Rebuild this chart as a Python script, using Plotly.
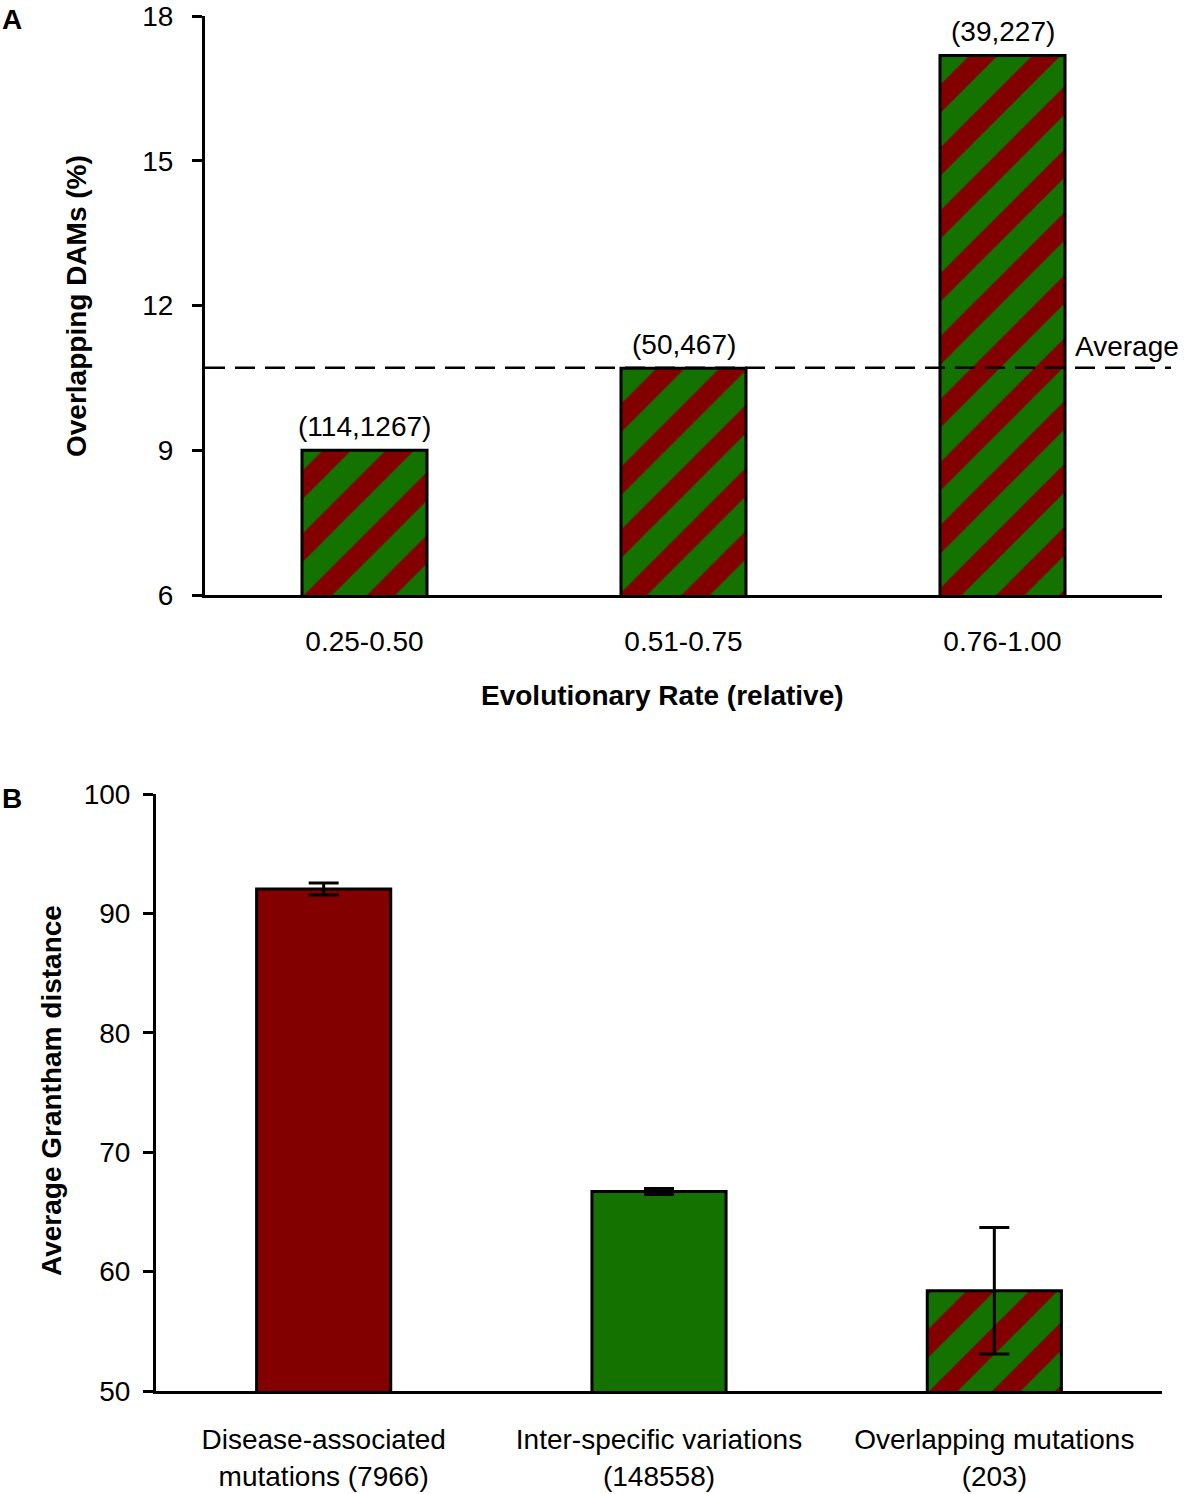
import plotly.graph_objects as go

# ---------------- data ----------------
rate_bins = ["0.25-0.50", "0.51-0.75", "0.76-1.00"]
overlap_pct = [9.0, 10.7, 17.18]
overlap_counts = ["(114,1267)", "(50,467)", "(39,227)"]
average_pct = 10.71

groups = ["Disease-associated<br>mutations (7966)",
          "Inter-specific variations<br>(148558)",
          "Overlapping mutations<br>(203)"]
grantham_mean = [92.05, 66.7, 58.4]
grantham_err = [0.5, 0.25, 5.3]

# ---------------- style ----------------
RED = "#820000"
GREEN = "#137200"
FONT = "Liberation Sans, Arial, sans-serif"
FS = 28
W, H = 1200, 1494

stripes = dict(shape="/", fgcolor=RED, bgcolor=GREEN, size=44.5,
               solidity=0.45, fillmode="replace", fgopacity=1)
bar_line = dict(color="black", width=3)
err_style = dict(type="data", color="black", thickness=3, width=15)

fig = go.Figure()

# Panel A
fig.add_trace(go.Bar(
    x=rate_bins, y=overlap_pct, width=0.392,
    marker=dict(color=GREEN, pattern=stripes, line=bar_line),
    xaxis="x", yaxis="y", showlegend=False,
))

# Panel B: solid bars
fig.add_trace(go.Bar(
    x=groups[:2], y=grantham_mean[:2], width=0.40,
    marker=dict(color=[RED, GREEN], line=bar_line),
    error_y=dict(array=grantham_err[:2], **err_style),
    xaxis="x2", yaxis="y2", showlegend=False,
))
# Panel B: striped bar
fig.add_trace(go.Bar(
    x=groups[2:], y=grantham_mean[2:], width=0.40,
    marker=dict(color=GREEN, pattern=stripes, line=bar_line),
    error_y=dict(array=grantham_err[2:], **err_style),
    xaxis="x2", yaxis="y2", showlegend=False,
))

def px_x(p):
    return p / W

def px_y(p):
    return 1 - p / H

tickfont = dict(family=FONT, size=FS, color="black")
axis_common = dict(showline=True, linecolor="black", showgrid=False, zeroline=False,
                   tickfont=tickfont, automargin=False)

fig.update_layout(
    width=W, height=H,
    margin=dict(l=0, r=0, t=0, b=0),
    paper_bgcolor="white", plot_bgcolor="white",
    barmode="overlay",
    font=dict(family=FONT, color="black"),
    xaxis=dict(domain=[px_x(205), px_x(1162)], anchor="y", linewidth=2.5,
               ticks="", ticklabelstandoff=20,
               categoryorder="array", categoryarray=rate_bins, **axis_common),
    yaxis=dict(domain=[px_y(595), px_y(16)], anchor="x", range=[6, 18],
               tickvals=[6, 9, 12, 15, 18], linewidth=3, ticks="outside",
               ticklen=10, tickwidth=3, tickcolor="black",
               ticklabelstandoff=13, **axis_common),
    xaxis2=dict(domain=[px_x(156), px_x(1162)], anchor="y2", linewidth=2.5,
                ticks="", ticklabelstandoff=22,
                categoryorder="array", categoryarray=groups, **axis_common),
    yaxis2=dict(domain=[px_y(1391), px_y(794)], anchor="x2", range=[50, 100],
                tickvals=[50, 60, 70, 80, 90, 100], linewidth=3, ticks="outside",
                ticklen=10, tickwidth=3, tickcolor="black",
                ticklabelstandoff=7, **axis_common),
)

# average dashed line
fig.add_shape(type="line", xref="paper", yref="y",
              x0=px_x(205), x1=px_x(1171), y0=average_pct, y1=average_pct,
              line=dict(color="black", width=2.5, dash="20px,10px"))

annotations = []
for cat, val, lab in zip(rate_bins, overlap_pct, overlap_counts):
    annotations.append(dict(x=cat, y=val, xref="x", yref="y", text=lab,
                            showarrow=False, yanchor="middle", yshift=24,
                            font=dict(family=FONT, size=FS, color="black")))
annotations.append(dict(x=px_x(1073), y=average_pct, xref="paper", yref="y",
                        text="Average", showarrow=False, xanchor="left",
                        yanchor="middle", yshift=21,
                        font=dict(family=FONT, size=FS, color="black")))
# titles
annotations += [
    dict(x=px_x(662), y=px_y(695), xref="paper", yref="paper",
         text="<b>Evolutionary Rate (relative)</b>", showarrow=False,
         xanchor="center", yanchor="middle", font=dict(family=FONT, size=FS)),
    dict(x=px_x(76), y=px_y(306), xref="paper", yref="paper",
         text="<b>Overlapping DAMs (%)</b>", showarrow=False, textangle=-90,
         xanchor="center", yanchor="middle", font=dict(family=FONT, size=FS)),
    dict(x=px_x(51), y=px_y(1091), xref="paper", yref="paper",
         text="<b>Average Grantham distance</b>", showarrow=False, textangle=-90,
         xanchor="center", yanchor="middle", font=dict(family=FONT, size=FS)),
    dict(x=px_x(0), y=px_y(19), xref="paper", yref="paper",
         text="<b>A</b>", showarrow=False, xanchor="left", yanchor="middle",
         font=dict(family=FONT, size=FS)),
    dict(x=px_x(0), y=px_y(798), xref="paper", yref="paper",
         text="<b>B</b>", showarrow=False, xanchor="left", yanchor="middle",
         font=dict(family=FONT, size=FS)),
]
fig.update_layout(annotations=annotations)

fig.write_html(
    "out.html",
    config={"displayModeBar": False},
    post_script="document.body.style.margin='0';document.body.style.overflow='hidden';",
)
